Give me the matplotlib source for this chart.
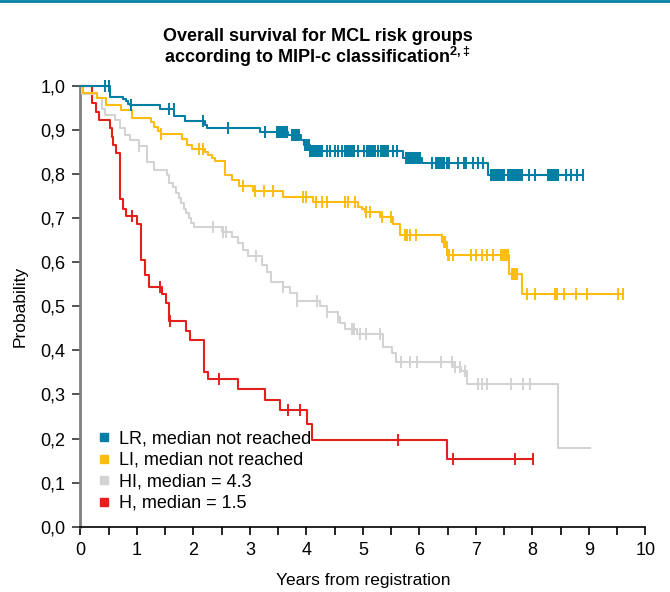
import matplotlib
matplotlib.use('Agg')
import matplotlib.pyplot as plt
from matplotlib.lines import Line2D
import numpy as np

# Kaplan-Meier steps (time in years, survival after the step); last time = end of follow-up
lr_times = [0, 0.52, 0.76, 0.80, 0.84, 0.88, 1.41, 1.66, 1.85, 2.20, 2.24, 3.18, 3.68, 3.91, 3.95,
            4.06, 5.71, 6.04, 7.22, 8.90]
lr_surv = [1.0, 0.975, 0.970, 0.965, 0.960, 0.956, 0.947, 0.933, 0.920, 0.912, 0.905, 0.895, 0.888,
           0.878, 0.866, 0.853, 0.836, 0.825, 0.798, 0.798]
lr_cens = [0.43, 0.51, 0.89, 1.57, 1.65, 2.16, 2.61, 3.27,
           3.47, 3.50, 3.53, 3.56, 3.59, 3.62, 3.65, 3.75, 3.78, 3.81, 3.84, 3.87,
           3.98, 4.01, 4.04, 4.07, 4.10, 4.13, 4.16, 4.19, 4.22, 4.25, 4.28,
           4.36, 4.42, 4.50, 4.56, 4.62, 4.68, 4.72, 4.76, 4.79, 4.82, 4.84, 4.92, 5.02,
           5.08, 5.11, 5.14, 5.17, 5.22, 5.27, 5.32, 5.35, 5.38, 5.41, 5.44, 5.54, 5.61,
           5.76, 5.79, 5.82, 5.85, 5.88, 5.92, 5.95, 5.98, 6.01, 6.22,
           6.29, 6.32, 6.35, 6.38, 6.41, 6.43, 6.48, 6.52, 6.69, 6.78, 6.82, 6.95, 7.04, 7.13,
           7.26, 7.29, 7.32, 7.35, 7.38, 7.41, 7.44, 7.47, 7.50,
           7.57, 7.60, 7.63, 7.66, 7.69, 7.72, 7.75, 7.78, 7.81, 7.93, 8.04,
           8.28, 8.31, 8.34, 8.37, 8.40, 8.43, 8.46, 8.59, 8.69, 8.78, 8.90]

li_times = [0, 0.05, 0.29, 0.46, 0.72, 0.91, 1.25, 1.31, 1.37, 1.42, 1.79, 1.88, 1.97, 2.20, 2.26,
            2.32, 2.38, 2.56, 2.69, 2.81, 3.06, 3.59, 4.11, 4.92, 4.98, 5.04, 5.30, 5.54, 5.65,
            6.39, 6.48, 7.59, 7.81, 9.60]
li_surv = [1.0, 0.985, 0.973, 0.958, 0.945, 0.928, 0.918, 0.908, 0.899, 0.890, 0.879, 0.866, 0.857,
           0.850, 0.843, 0.836, 0.830, 0.799, 0.786, 0.773, 0.762, 0.749, 0.736, 0.725, 0.720,
           0.714, 0.703, 0.688, 0.663, 0.645, 0.616, 0.574, 0.527, 0.527]
li_cens = [1.42, 2.10, 2.17, 2.88, 3.09, 3.24, 3.40, 3.94, 4.00, 4.17, 4.27, 4.36, 4.68, 4.74, 4.86,
           5.05, 5.12, 5.33, 5.49, 5.74, 5.78, 5.83, 5.94, 6.44, 6.46, 6.50, 6.53, 6.59,
           6.91, 7.00, 7.10, 7.19, 7.31, 7.45, 7.48, 7.51, 7.54, 7.57, 7.63, 7.66, 7.69, 7.72,
           7.90, 8.05, 8.40, 8.44, 8.55, 8.77, 8.97, 9.52, 9.60]

hi_times = [0, 0.03, 0.29, 0.375, 0.43, 0.61, 0.70, 0.79, 0.88, 1.03, 1.18, 1.30, 1.54, 1.57, 1.63,
            1.69, 1.74, 1.78, 1.83, 1.87, 1.92, 1.96, 2.01, 2.50, 2.68, 2.79, 2.88, 2.97, 3.21,
            3.30, 3.38, 3.59, 3.71, 3.83, 4.24, 4.36, 4.55, 4.59, 4.68, 4.89, 5.36, 5.51, 5.58,
            6.61, 6.73, 6.84, 8.46, 9.02]
hi_surv = [1.0, 0.983, 0.973, 0.947, 0.935, 0.922, 0.905, 0.888, 0.877, 0.865, 0.827, 0.809, 0.798,
           0.781, 0.770, 0.758, 0.746, 0.735, 0.722, 0.711, 0.700, 0.690, 0.680, 0.669, 0.657,
           0.644, 0.629, 0.614, 0.593, 0.577, 0.555, 0.544, 0.530, 0.512, 0.500, 0.487, 0.476,
           0.462, 0.449, 0.438, 0.407, 0.394, 0.373, 0.362, 0.353, 0.323, 0.178, 0.178]
hi_cens = [1.03, 2.35, 2.53, 2.58, 3.10, 3.59, 3.83, 4.18, 4.36, 4.55, 4.80, 4.84, 4.95, 5.05, 5.30,
           5.67, 5.83, 5.96, 6.38, 6.57, 6.63, 6.71, 6.80, 7.03, 7.10, 7.19, 7.62, 7.83, 7.96]

h_times = [0, 0.20, 0.27, 0.33, 0.53, 0.55, 0.58, 0.63, 0.70, 0.76, 0.81, 1.00, 1.07, 1.15, 1.22,
           1.45, 1.52, 1.57, 1.87, 1.94, 2.19, 2.25, 2.79, 3.27, 3.53, 4.01, 4.09, 6.48, 8.01]
h_surv = [1.0, 0.961, 0.941, 0.923, 0.905, 0.885, 0.866, 0.849, 0.743, 0.722, 0.705, 0.688, 0.605,
          0.572, 0.545, 0.529, 0.508, 0.466, 0.445, 0.423, 0.351, 0.336, 0.313, 0.288, 0.264,
          0.232, 0.197, 0.154, 0.154]
h_cens = [0.91, 1.41, 1.59, 2.45, 3.67, 3.88, 5.62, 6.59, 7.69, 8.01]

labels = ['LR, median not reached', 'LI, median not reached', 'HI, median = 4.3', 'H, median = 1.5']
colors = ['#007ea3', '#fdbd10', '#d3d3d3', '#e3201b']
x_ticks = list(range(0, 11))
y_ticks = [0.0, 0.1, 0.2, 0.3, 0.4, 0.5, 0.6, 0.7, 0.8, 0.9, 1.0]
y_tick_labels = ['0,0', '0,1', '0,2', '0,3', '0,4', '0,5', '0,6', '0,7', '0,8', '0,9', '1,0']

plt.rcParams['font.family'] = ['Liberation Sans', 'DejaVu Sans']
plt.rcParams['mathtext.default'] = 'regular'


def draw_km(ax, times, surv, cens, color):
    times = np.array(times)
    surv = np.array(surv)
    ax.step(times, surv, where='post', color=color, lw=1.5, clip_on=False, zorder=3)
    idx = np.searchsorted(times, cens, side='right') - 1
    ax.plot(cens, surv[idx], ls='none', marker='|', ms=9, mew=1.4, color=color,
            clip_on=False, zorder=3)


def main():
    fig = plt.figure(figsize=(6.7, 5.92), dpi=100)
    ax = fig.add_axes([0.1201, 0.1103, 0.8433, 0.7444])

    # draw grey and red first so the upper curves sit on top as in the original
    draw_km(ax, h_times, h_surv, h_cens, colors[3])
    draw_km(ax, hi_times, hi_surv, hi_cens, colors[2])
    draw_km(ax, li_times, li_surv, li_cens, colors[1])
    draw_km(ax, lr_times, lr_surv, lr_cens, colors[0])

    ax.set_xlim(0, 10)
    ax.set_ylim(0, 1.0)
    ax.set_xticks(x_ticks)
    ax.set_xticks(np.arange(0.5, 10, 1.0), minor=True)
    ax.set_yticks(y_ticks)
    ax.set_yticklabels(y_tick_labels)
    ax.tick_params(axis='x', which='both', direction='out', length=6, width=1.2, color='black',
                   labelsize=13, pad=5)
    ax.tick_params(axis='y', direction='out', length=6, width=1.2, color='#333333',
                   labelsize=13, pad=5)
    for s in ['top', 'right']:
        ax.spines[s].set_visible(False)
    ax.spines['left'].set_color('#7f7f7f')
    ax.spines['left'].set_linewidth(2)
    ax.spines['bottom'].set_color('black')
    ax.spines['bottom'].set_linewidth(1.2)

    ax.set_xlabel('Years from registration', fontsize=12.5, labelpad=10)
    ax.set_ylabel('Probability', fontsize=12.5, labelpad=9)

    handles = [Line2D([], [], ls='none', marker='s', ms=6, color=c) for c in colors]
    ax.legend(handles, labels, loc='lower left', bbox_to_anchor=(0.01, 0.005), frameon=False,
              fontsize=13, handlelength=0.6, handletextpad=0.5, labelspacing=0.25,
              borderaxespad=0.3)

    fig.text(0.474, 0.9307, 'Overall survival for MCL risk groups', ha='center', va='baseline',
             fontsize=13, fontweight='bold')
    fig.text(0.474, 0.8936, 'according to MIPI-c classification$^{2,‡}$', ha='center',
             va='baseline', fontsize=13, fontweight='bold')

    fig.add_artist(Line2D([0, 1], [0.998, 0.998], transform=fig.transFigure, color=colors[0], lw=2))

    fig.savefig('out.png', dpi=100)
    plt.close(fig)


if __name__ == '__main__':
    main()
